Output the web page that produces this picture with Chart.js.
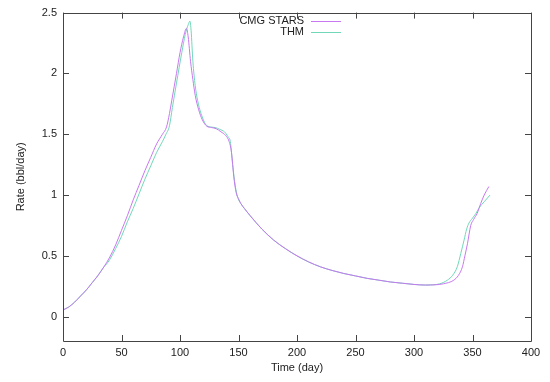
<!DOCTYPE html>
<html>
<head>
<meta charset="utf-8">
<script src="https://cdn.jsdelivr.net/npm/chart.js@4.4.1/dist/chart.umd.min.js"></script>
<style>
html, body { margin: 0; padding: 0; background: #fff; }
</style>
</head>
<body>
<canvas id="rateChart" width="550" height="382"></canvas>
<script>
// series data (day, bbl/day)
var seriesNames = ['CMG STARS', 'THM'];

var starsDay  = [0, 5, 10, 15, 20, 25, 30, 35, 40, 45, 50, 55, 60, 65, 70, 75, 80, 85, 88.5, 91, 93, 97, 100, 103, 105.5, 107, 109, 111, 113, 116, 119, 123, 127, 131, 135, 139, 142, 144, 146, 148, 150, 152, 155, 160, 170, 180, 190, 200, 210, 220, 230, 240, 250, 260, 270, 280, 290, 300, 310, 318, 325, 334, 338, 341.4, 343.5, 345.7, 348.5, 351, 354, 357, 360, 364];
var starsRate = [0.055, 0.08, 0.12, 0.17, 0.22, 0.28, 0.34, 0.41, 0.49, 0.59, 0.71, 0.83, 0.96, 1.08, 1.20, 1.31, 1.42, 1.50, 1.56, 1.67, 1.78, 2.00, 2.17, 2.30, 2.37, 2.30, 2.10, 1.95, 1.82, 1.70, 1.62, 1.565, 1.555, 1.545, 1.52, 1.49, 1.44, 1.35, 1.15, 1.02, 0.97, 0.93, 0.89, 0.83, 0.72, 0.63, 0.56, 0.50, 0.45, 0.41, 0.38, 0.355, 0.335, 0.315, 0.30, 0.285, 0.275, 0.265, 0.26, 0.262, 0.27, 0.30, 0.34, 0.41, 0.50, 0.60, 0.75, 0.80, 0.85, 0.93, 1.00, 1.07];

var thmDay  = [0, 5, 10, 15, 20, 25, 30, 35, 37, 40, 45, 50, 55, 60, 65, 70, 75, 80, 85, 88, 91, 93.5, 97, 101.5, 104.5, 107, 108.5, 109.5, 111, 113, 115, 118, 122, 126, 130, 134, 138, 141, 143, 145, 147, 149, 152, 155, 160, 170, 180, 190, 200, 210, 220, 230, 240, 250, 260, 270, 280, 290, 300, 310, 316, 322, 328.5, 333, 337, 340, 342.8, 345, 347, 350, 353, 356, 360, 365];
var thmRate = [0.055, 0.08, 0.12, 0.17, 0.22, 0.28, 0.34, 0.41, 0.43, 0.47, 0.56, 0.66, 0.78, 0.89, 1.01, 1.13, 1.24, 1.35, 1.44, 1.50, 1.57, 1.72, 1.92, 2.17, 2.32, 2.40, 2.43, 2.35, 2.10, 1.90, 1.78, 1.67, 1.58, 1.56, 1.555, 1.54, 1.52, 1.48, 1.44, 1.25, 1.09, 0.99, 0.93, 0.89, 0.83, 0.72, 0.63, 0.56, 0.50, 0.45, 0.41, 0.38, 0.355, 0.335, 0.315, 0.30, 0.285, 0.275, 0.265, 0.26, 0.262, 0.27, 0.30, 0.34, 0.41, 0.52, 0.63, 0.72, 0.77, 0.81, 0.85, 0.90, 0.945, 1.00];

var xTicks = [0, 50, 100, 150, 200, 250, 300, 350, 400];
var yTicks = [0, 0.5, 1, 1.5, 2, 2.5];

var lineColors = ['#c878f0', '#70d8b8'];
var fontFamily = '"Liberation Sans", Arial, sans-serif';

function toPoints(xs, ys) {
    return xs.map(function (x, i) { return { x: x, y: ys[i] }; });
}

// gnuplot-like frame: box, inward ticks on all four sides, legend top-right
var framePlugin = {
    id: 'frame',
    afterDraw: function (chart) {
        var ctx = chart.ctx;
        var a = chart.chartArea;
        var xs = chart.scales.x, ys = chart.scales.y;
        ctx.save();
        ctx.strokeStyle = '#444';
        ctx.lineWidth = 1;
        ctx.beginPath();
        ctx.rect(Math.round(a.left) + 0.5, Math.round(a.top) + 0.5,
                 Math.round(a.right - a.left), Math.round(a.bottom - a.top));
        ctx.stroke();
        ctx.beginPath();
        xTicks.forEach(function (v) {
            var px = Math.round(xs.getPixelForValue(v)) + 0.5;
            ctx.moveTo(px, a.bottom); ctx.lineTo(px, a.bottom - 6);
            ctx.moveTo(px, a.top); ctx.lineTo(px, a.top + 6);
        });
        yTicks.forEach(function (v) {
            var py = Math.round(ys.getPixelForValue(v)) + 0.5;
            ctx.moveTo(a.left, py); ctx.lineTo(a.left + 6, py);
            ctx.moveTo(a.right, py); ctx.lineTo(a.right - 6, py);
        });
        ctx.stroke();

        ctx.font = '11px ' + fontFamily;
        ctx.textAlign = 'right';
        ctx.textBaseline = 'middle';
        chart.data.datasets.forEach(function (ds, i) {
            var y = 21 + i * 11;
            ctx.fillStyle = '#222';
            ctx.fillText(ds.label, 304, y);
            ctx.strokeStyle = ds.borderColor;
            ctx.beginPath();
            ctx.moveTo(311, y + 0.5); ctx.lineTo(341, y + 0.5);
            ctx.stroke();
        });
        ctx.restore();
    }
};

var ctx = document.getElementById('rateChart').getContext('2d');
var rateChart = new Chart(ctx, {
    type: 'scatter',
    data: {
        datasets: [
            {
                label: seriesNames[0],
                data: toPoints(starsDay, starsRate),
                showLine: true,
                borderColor: lineColors[0],
                borderWidth: 1,
                pointRadius: 0,
                cubicInterpolationMode: 'monotone'
            },
            {
                label: seriesNames[1],
                data: toPoints(thmDay, thmRate),
                showLine: true,
                borderColor: lineColors[1],
                borderWidth: 1,
                pointRadius: 0,
                cubicInterpolationMode: 'monotone'
            }
        ]
    },
    options: {
        responsive: false,
        animation: false,
        layout: { padding: { left: 0, right: 19, top: 12, bottom: 0 } },
        scales: {
            x: {
                type: 'linear',
                min: 0,
                max: 400,
                afterBuildTicks: function (scale) {
                    scale.ticks = xTicks.map(function (v) { return { value: v }; });
                },
                afterFit: function (scale) { scale.height = 41; },
                grid: { display: false, drawTicks: false },
                border: { display: false },
                ticks: { padding: 5, color: '#222', font: { family: fontFamily, size: 11 }, maxRotation: 0,
                    callback: function (value) { return String(value); } },
                title: { display: true, text: 'Time (day)', color: '#222', font: { family: fontFamily, size: 11, lineHeight: 1.2 }, padding: { top: 0, bottom: 7 } }
            },
            y: {
                type: 'linear',
                min: -0.2,
                max: 2.5,
                afterBuildTicks: function (scale) {
                    scale.ticks = yTicks.map(function (v) { return { value: v }; });
                },
                afterFit: function (scale) { scale.width = 63; },
                grid: { display: false, drawTicks: false },
                border: { display: false },
                ticks: { padding: 6, color: '#222', font: { family: fontFamily, size: 11 },
                    callback: function (value) { return String(value); } },
                title: { display: true, text: 'Rate (bbl/day)', color: '#222', font: { family: fontFamily, size: 11, lineHeight: 1.2 }, padding: { top: 14, bottom: 0 } }
            }
        },
        plugins: {
            legend: { display: false },
            tooltip: { enabled: false }
        }
    },
    plugins: [framePlugin]
});
</script>
</body>
</html>
